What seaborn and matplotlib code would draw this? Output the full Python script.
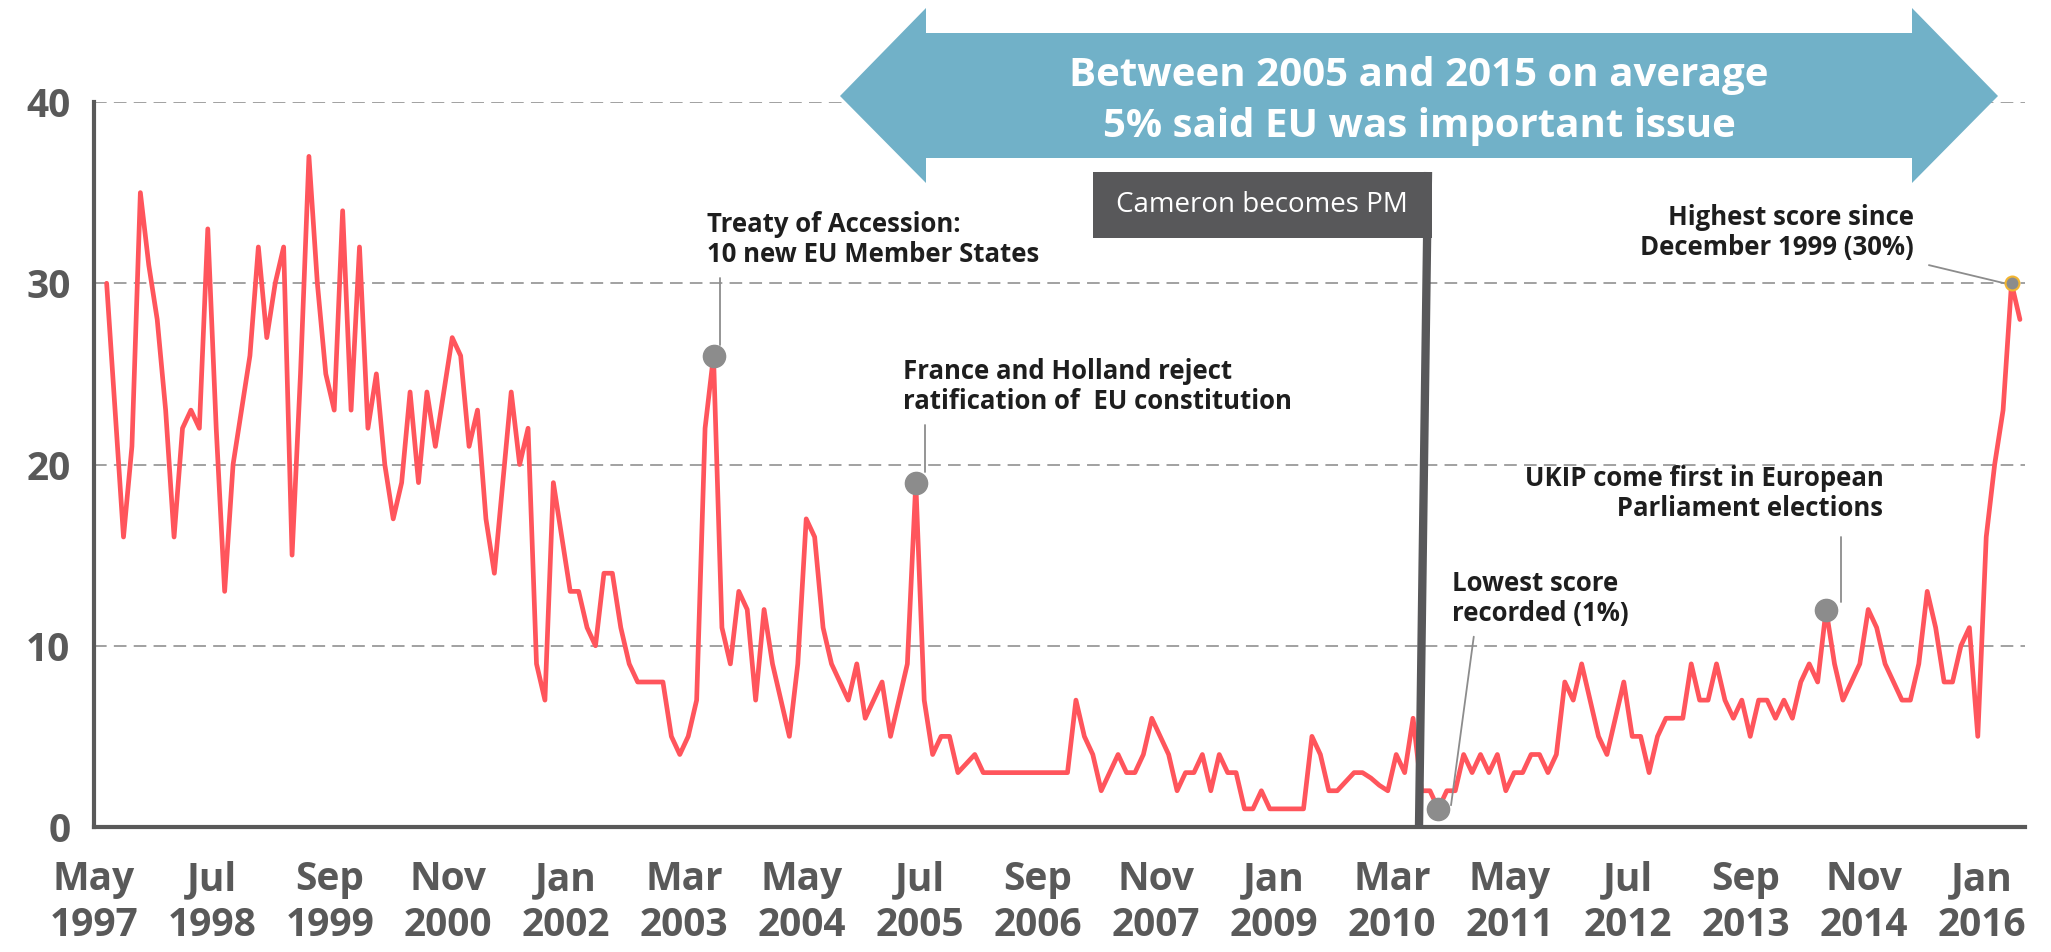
import numpy as np
import pandas as pd
import seaborn as sns
import matplotlib.pyplot as plt
from matplotlib.patches import Polygon, Rectangle
from matplotlib.lines import Line2D

# share naming Europe / the EU as an important issue facing Britain (%), one value per survey
eu_share = [30, 23, 16, 21, 35, 31, 28, 23, 16, 22,
            23, 22, 33, 22, 13, 20, 23, 26, 32, 27,
            30, 32, 15, 25, 37, 30, 25, 23, 34, 23,
            32, 22, 25, 20, 17, 19, 24, 19, 24, 21,
            24, 27, 26, 21, 23, 17, 14, 19, 24, 20,
            22, 9, 7, 19, 16, 13, 13, 11, 10, 14,
            14, 11, 9, 8, 8, 8, 8, 5, 4, 5,
            7, 22, 26, 11, 9, 13, 12, 7, 12, 9,
            7, 5, 9, 17, 16, 11, 9, 8, 7, 9,
            6, 7, 8, 5, 7, 9, 19, 7, 4, 5,
            5, 3, 3.5, 4, 3, 3, 3, 3, 3, 3,
            3, 3, 3, 3, 3, 7, 5, 4, 2, 3,
            4, 3, 3, 4, 6, 5, 4, 2, 3, 3,
            4, 2, 4, 3, 3, 1, 1, 2, 1, 1,
            1, 1, 1, 5, 4, 2, 2, 2.5, 3, 3,
            2.7, 2.3, 2, 4, 3, 6, 2, 2, 1, 2,
            2, 4, 3, 4, 3, 4, 2, 3, 3, 4,
            4, 3, 4, 8, 7, 9, 7, 5, 4, 6,
            8, 5, 5, 3, 5, 6, 6, 6, 9, 7,
            7, 9, 7, 6, 7, 5, 7, 7, 6, 7,
            6, 8, 9, 8, 12, 9, 7, 8, 9, 12,
            11, 9, 8, 7, 7, 9, 13, 11, 8, 8,
            10, 11, 5, 16, 20, 23, 30, 28]

tick_months = ['May', 'Jul', 'Sep', 'Nov', 'Jan', 'Mar', 'May', 'Jul', 'Sep',
               'Nov', 'Jan', 'Mar', 'May', 'Jul', 'Sep', 'Nov', 'Jan']
tick_years = ['1997', '1998', '1999', '2000', '2002', '2003', '2004', '2005', '2006',
              '2007', '2009', '2010', '2011', '2012', '2013', '2014', '2016']

# (survey index, label) for the highlighted events
events = [(72, 'Treaty of Accession:\n10 new EU Member States'),
          (96, 'France and Holland reject\nratification of  EU constitution'),
          (158, 'Lowest score\nrecorded (1%)'),
          (204, 'UKIP come first in European\n Parliament elections'),
          (226, 'Highest score since\nDecember 1999 (30%)')]

df = pd.DataFrame({'survey': np.arange(len(eu_share)), 'share': eu_share})

sns.set_style('white')
plt.rcParams['font.family'] = ['Open Sans', 'DejaVu Sans']

W, H = 2051, 952
def fx(px):
    return px / W
def fy(py):
    return 1 - py / H

fig = plt.figure(figsize=(W / 100, H / 100), dpi=100)
ax = fig.add_axes([fx(94), fy(827), fx(2025) - fx(94), fy(102) - fy(827)])

red = '#FF555C'
grey = '#8C8C8C'
dark = '#58585A'
axis_col = '#595959'

ax.set_xlim(-1.5, 227.6)
ax.set_ylim(0, 40)
ax.set_yticks([0, 10, 20, 30, 40])
ax.yaxis.grid(True, color='#9A9A9A', lw=1.3, linestyle=(0, (7, 4)))
ax.xaxis.grid(False)

sns.lineplot(data=df, x='survey', y='share', color=red, lw=3.4, ax=ax, zorder=3)

ax.set_xticks(np.arange(len(tick_months)) * 14 - 1.5,
              labels=[f'{m}\n{y}' for m, y in zip(tick_months, tick_years)])
ax.set_xlabel('')
ax.set_ylabel('')
for s in ['top', 'right']:
    ax.spines[s].set_visible(False)
for s in ['left', 'bottom']:
    ax.spines[s].set_color(axis_col)
    ax.spines[s].set_linewidth(3)
ax.tick_params(axis='both', direction='out', length=9, width=3, color=axis_col,
               labelcolor=axis_col, labelsize=28)
ax.tick_params(axis='x', pad=15)
ax.tick_params(axis='y', pad=8)
for t in ax.get_xticklabels() + ax.get_yticklabels():
    t.set_fontweight('bold')
for t in ax.get_xticklabels():
    t.set_linespacing(1.22)

# event markers
for i, _ in events[:4]:
    ax.plot(i, eu_share[i], 'o', ms=16, color=grey, zorder=5, clip_on=False)
ax.plot(events[4][0], eu_share[events[4][0]], 'o', ms=10, color=grey,
        mec='#F2B531', mew=1.5, zorder=5, clip_on=False)

txt = dict(fontsize=18.5, fontweight='bold', color='#1E1E1E', linespacing=1.12, va='center')
ax.text(71.2, 32.4, events[0][1], ha='left', **txt)
ax.text(94.5, 24.3, events[1][1], ha='left', **txt)
ax.text(159.6, 12.6, events[2][1], ha='left', **txt)
ax.text(210.8, 18.4, events[3][1], ha='right', **txt)
ax.text(214.4, 32.8, events[4][1], ha='right', **txt)

lead = dict(color=grey, lw=1.3, zorder=4)
ax.plot([72.8, 72.8], [30.3, 26.6], **lead)
ax.plot([97.1, 97.1], [22.2, 19.6], **lead)
ax.plot([162.2, 159.5], [10.5, 1.2], **lead)
ax.plot([205.8, 205.8], [16.0, 12.4], **lead)
ax.plot([216.2, 225.6], [31.0, 29.95], **lead)

# double-headed arrow with the headline
pts = [(840, 96), (926, 8), (926, 33), (1912, 33), (1912, 8), (1998, 96),
       (1912, 183), (1912, 158), (926, 158), (926, 183)]
fig.add_artist(Polygon([(fx(x), fy(y)) for x, y in pts], closed=True,
                       transform=fig.transFigure, fc='#71B1C8', ec='none', zorder=6))
fig.text(fx(1419), fy(76), 'Between 2005 and 2015 on average', color='white',
         fontsize=29, fontweight='bold', ha='center', va='center', zorder=7)
fig.text(fx(1419), fy(126), '5% said EU was important issue', color='white',
         fontsize=29, fontweight='bold', ha='center', va='center', zorder=7)

# Cameron becomes PM
fig.add_artist(Rectangle((fx(1093), fy(238)), fx(1432) - fx(1093), fy(172) - fy(238),
                         transform=fig.transFigure, fc=dark, ec='none', zorder=6))
fig.text(fx(1262), fy(205), 'Cameron becomes PM', color='white', fontsize=20,
         ha='center', va='center', zorder=7)
fig.add_artist(Line2D([fx(1428), fx(1419)], [fy(172), fy(827)], transform=fig.transFigure,
                      color=dark, lw=6, solid_capstyle='butt', zorder=6))

fig.savefig('out.png', dpi=100)
